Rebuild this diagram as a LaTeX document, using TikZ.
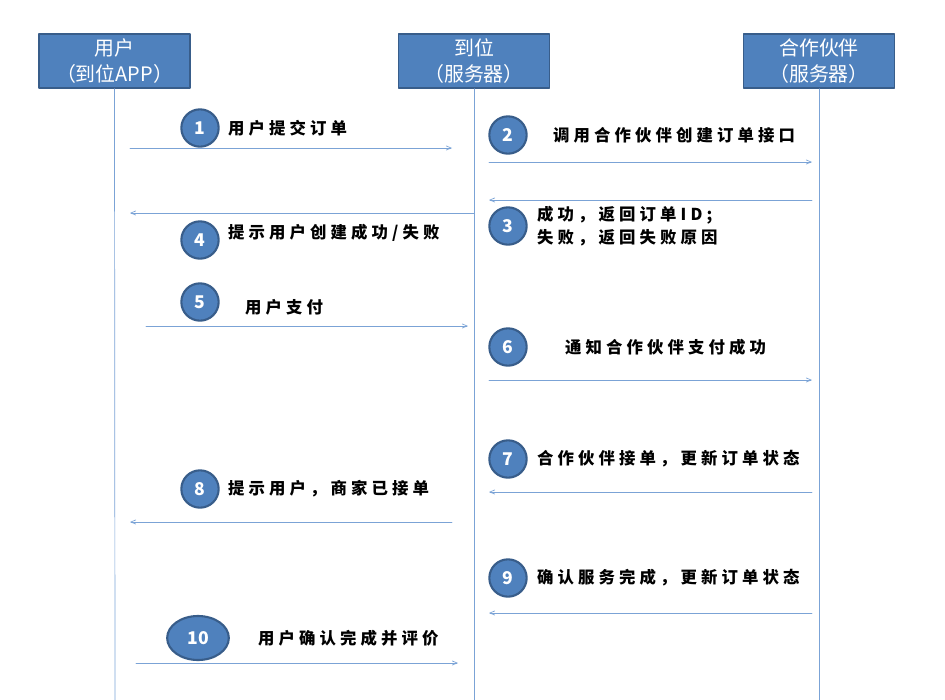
\documentclass[tikz,border=0pt]{standalone}
\usepackage{fontspec}
\setmainfont{Liberation Sans}
\newfontfamily\cjk{Noto Sans CJK SC}
\newfontfamily\cjkwide[LetterSpace=25]{Noto Sans CJK SC}
\usetikzlibrary{arrows,shapes.geometric}
\definecolor{boxblue}{HTML}{4F81BD}
\definecolor{boxedge}{HTML}{385D8A}
\definecolor{lineblue}{HTML}{7BA3D6}
\tikzset{
  actor/.style={draw=boxedge,line width=1.2pt,fill=boxblue,text=white,minimum width=4.53cm,minimum height=1.62cm,inner sep=0pt,align=center,font=\cjk\fontsize{17}{22}\selectfont},
  numball/.style={circle,draw=boxedge,line width=1.8pt,fill=boxblue,text=white,minimum size=1.12cm,inner sep=0pt,font=\cjk\bfseries\fontsize{15}{15}\selectfont},
  msg/.style={anchor=west,align=left,font=\cjkwide\bfseries\fontsize{14}{20}\selectfont},
  life/.style={draw=lineblue,line width=0.6pt},
  call/.style={draw=lineblue,line width=0.6pt,->,>=angle 45}
}
\begin{document}
\begin{tikzpicture}[line cap=round,line join=round,x=0.03cm,y=-0.03cm]
\useasboundingbox (0,0) rectangle (945,700);
\node[actor] (user) at (114.5,61) {用户\\（到位APP）};
\node[actor] (daowei) at (474,61) {到位\\（服务器）};
\node[actor] (partner) at (819,61) {合作伙伴\\（服务器）};
\draw[life] (user.south) -- (115,700);
\draw[life] (daowei.south) -- (474,700);
\draw[life] (partner.south) -- (819,700);
% step 1
\draw[call] (130,148) -- (452,148);
\node[numball] (n1) at (200,128) {1};
\node[msg] (t1) at (224,128) {用户提交订单};
% step 2
\draw[call] (489,162) -- (812,162);
\node[numball] (n2) at (508,135) {2};
\node[msg] (t2) at (549,135) {调用合作伙伴创建订单接口};
% step 3
\draw[call] (812,200) -- (489,200);
\node[numball] (n3) at (508,226) {3};
\node[msg] (t3) at (533,226) {成功，返回订单ID;\\失败，返回失败原因};
% step 4
\draw[call] (474,213) -- (130,213);
\node[numball] (n4) at (200,240) {4};
\node[msg] (t4) at (224,233) {提示用户创建成功/失败};
% step 5
\draw[call] (146,326) -- (468,326);
\node[numball] (n5) at (200,302) {5};
\node[msg] (t5) at (241,307) {用户支付};
% step 6
\draw[call] (489,380) -- (812,380);
\node[numball] (n6) at (508,347) {6};
\node[msg] (t6) at (561,347) {通知合作伙伴支付成功};
% step 7
\draw[call] (812,492) -- (489,492);
\node[numball] (n7) at (508,459) {7};
\node[msg] (t7) at (533,459) {合作伙伴接单，更新订单状态};
% step 8
\draw[call] (452,522) -- (130,522);
\node[numball] (n8) at (200,489) {8};
\node[msg] (t8) at (224,489) {提示用户，商家已接单};
% step 9
\draw[call] (812,613) -- (489,613);
\node[numball] (n9) at (508,578) {9};
\node[msg] (t9) at (533,578) {确认服务完成，更新订单状态};
% step 10
\draw[call] (136,663) -- (458,663);
\node[numball,ellipse,minimum width=1.85cm,minimum height=1.32cm] (n10) at (198,638) {10};
\node[msg] (t10) at (254,638) {用户确认完成并评价};
\end{tikzpicture}
\end{document}
